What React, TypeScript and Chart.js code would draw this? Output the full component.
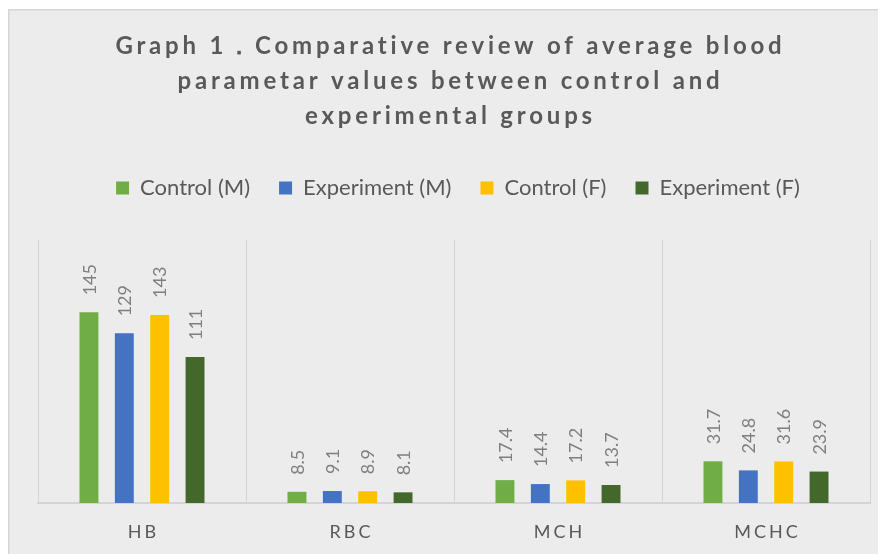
import React, { useEffect, useRef } from 'react';
import { Chart, registerables } from 'chart.js';

Chart.register(...registerables);

const categories = ['HB', 'RBC', 'MCH', 'MCHC'];
const seriesNames = ['Control (M)', 'Experiment (M)', 'Control (F)', 'Experiment (F)'];
const controlM = [145, 8.5, 17.4, 31.7];
const experimentM = [129, 9.1, 14.4, 24.8];
const controlF = [143, 8.9, 17.2, 31.6];
const experimentF = [111, 8.1, 13.7, 23.9];
const seriesColors = ['#70AD47', '#4472C4', '#FFC000', '#43682B'];
const titleLines = [
  'Graph 1．Comparative review of average blood',
  'parametar values between control and',
  'experimental groups',
];
const yMin = 0;
const yMax = 200;

const W = 878;
const H = 546;

const decorPlugin = {
  id: 'decor',
  beforeDraw(chart: any) {
    const { ctx, width, height } = chart;
    ctx.save();
    ctx.fillStyle = '#ffffff';
    ctx.fillRect(0, 0, width, height);
    ctx.fillStyle = '#ececec';
    ctx.fillRect(0, 1, width, height - 1);
    ctx.fillStyle = '#d6d6d6';
    ctx.fillRect(0, 1, width, 1.5);
    ctx.fillRect(0, 1, 1.5, height);
    ctx.fillStyle = '#595959';
    ctx.font = 'bold 24px Lato';
    ctx.letterSpacing = '3.8px';
    ctx.textAlign = 'center';
    ctx.textBaseline = 'alphabetic';
    titleLines.forEach((t, i) => {
      ctx.fillText(t, width / 2 + 3.5, 46 + i * 35);
    });
    ctx.letterSpacing = '0px';
    ctx.restore();
  },
  afterDatasetsDraw(chart: any) {
    const { ctx } = chart;
    ctx.save();
    ctx.fillStyle = '#7f7f7f';
    ctx.font = '18px Lato';
    ctx.textAlign = 'left';
    ctx.textBaseline = 'middle';
    chart.data.datasets.forEach((ds: any, i: number) => {
      const meta = chart.getDatasetMeta(i);
      meta.data.forEach((bar: any, j: number) => {
        ctx.save();
        ctx.translate(bar.x + 1, bar.y - 17);
        ctx.rotate(-Math.PI / 2);
        ctx.fillText(String(ds.data[j]), 0, 0);
        ctx.restore();
      });
    });
    ctx.restore();
  },
  afterDraw(chart: any) {
    const { ctx, chartArea } = chart;
    const xs = chart.scales.x;
    ctx.save();
    ctx.fillStyle = '#595959';
    ctx.font = '18px Lato';
    ctx.letterSpacing = '3px';
    ctx.textAlign = 'center';
    ctx.textBaseline = 'alphabetic';
    categories.forEach((c, i) => {
      ctx.fillText(c, xs.getPixelForValue(i) + 1.5, chartArea.bottom + 35);
    });
    ctx.letterSpacing = '0px';
    ctx.restore();
  },
};

export default function App() {
  const ref = useRef<HTMLCanvasElement | null>(null);

  useEffect(() => {
    if (!ref.current) return;
    const seriesValues = [controlM, experimentM, controlF, experimentF];
    const chart = new Chart(ref.current, {
      type: 'bar',
      data: {
        labels: categories,
        datasets: seriesNames.map((name, i) => ({
          label: name,
          data: seriesValues[i],
          backgroundColor: seriesColors[i],
          borderWidth: 0,
          categoryPercentage: 0.68,
          barPercentage: 0.535,
          xAxisID: 'x',
          yAxisID: 'y',
        })),
      },
      options: {
        animation: false,
        responsive: false,
        devicePixelRatio: 1,
        layout: { padding: { top: 140, left: 30, right: 8, bottom: 0 } },
        plugins: {
          title: { display: false },
          tooltip: { enabled: false },
          legend: {
            display: true,
            position: 'top',
            labels: {
              boxWidth: 13,
              boxHeight: 13,
              padding: 29,
              color: '#595959',
              font: { family: 'Lato', size: 22 },
            },
          },
        },
        scales: {
          x: {
            type: 'category',
            position: 'bottom',
            grid: { display: true, color: '#d4d4d4', lineWidth: 1, drawTicks: false, offset: true },
            border: { display: true, color: '#d4d4d4', width: 2 },
            ticks: { display: false },
            afterFit: (scale: any) => {
              scale.height = 51;
            },
          },
          xTop: {
            type: 'category',
            position: 'top',
            grid: { display: false, drawTicks: false },
            border: { display: false },
            ticks: { display: false },
            afterFit: (scale: any) => {
              scale.height = 31;
            },
          },
          y: {
            display: false,
            min: yMin,
            max: yMax,
          },
          yRight: {
            type: 'linear',
            position: 'right',
            display: true,
            min: yMin,
            max: yMax,
            grid: { display: false, drawTicks: false },
            border: { display: false },
            ticks: { display: false },
            afterFit: (scale: any) => {
              scale.width = 8;
            },
          },
        },
      },
      plugins: [decorPlugin],
    });
    return () => chart.destroy();
  }, []);

  return (
    <div style={{ width: W, height: H }}>
      <canvas ref={ref} width={W} height={H} style={{ display: 'block', width: W, height: H }} />
    </div>
  );
}
